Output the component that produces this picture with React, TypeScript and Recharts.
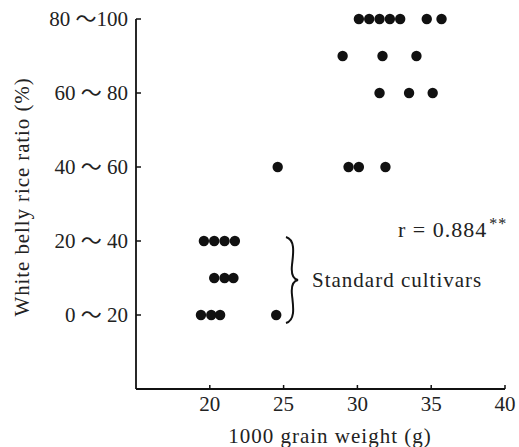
import { ScatterChart, Scatter, XAxis, YAxis } from 'recharts'

// white belly rice ratio classes (1 = 0~20 ... 5 = 80~100), half steps are in-between rows
const classLabels = ['0 ～ 20', '20 ～ 40', '40 ～ 60', '60 ～ 80', '80 ～100']
const classTicks = [1, 2, 3, 4, 5]
const weightTicks = [20, 25, 30, 35, 40]

// 1000 grain weight (g) for each cultivar, grouped by row
const row5 = [30.1, 30.8, 31.5, 32.2, 32.9, 34.7, 35.7]
const row45 = [29.0, 31.7, 34.0]
const row4 = [31.5, 33.5, 35.1]
const row3 = [24.6, 29.4, 30.1, 31.9]
const row2 = [19.6, 20.3, 21.0, 21.7]
const row15 = [20.3, 21.0, 21.6]
const row1 = [19.4, 20.1, 20.7, 24.5]

const toPoints = (xs: number[], y: number) => xs.map((x) => ({ x, y }))
const data = [
  ...toPoints(row5, 5),
  ...toPoints(row45, 4.5),
  ...toPoints(row4, 4),
  ...toPoints(row3, 3),
  ...toPoints(row2, 2),
  ...toPoints(row15, 1.5),
  ...toPoints(row1, 1),
]

const font = '"Liberation Serif", "Noto Sans CJK JP", serif'

const Dot = (props: any) => <circle cx={props.cx} cy={props.cy} r={5.2} fill="#111" />

export default function App() {
  return (
    <div style={{ position: 'relative', width: 519, height: 447, background: '#fff', fontFamily: font }}>
      <style>{'html,body{margin:0;padding:0;overflow:hidden}'}</style>
      <ScatterChart width={519} height={447} margin={{ top: 19, right: 14, bottom: 0, left: 0 }}>
        <XAxis
          type="number"
          dataKey="x"
          domain={[15, 40]}
          ticks={weightTicks}
          allowDataOverflow
          height={58}
          tickSize={-4}
          tickMargin={11}
          axisLine={{ stroke: '#111', strokeWidth: 1.8 }}
          tickLine={{ stroke: '#111', strokeWidth: 1.5 }}
          tick={{ fill: '#222', fontSize: 21, fontFamily: font }}
        />
        <YAxis
          type="number"
          dataKey="y"
          domain={[0, 5]}
          ticks={classTicks}
          width={136}
          tickSize={-5}
          tickMargin={13}
          tickFormatter={(v: number) => classLabels[v - 1]}
          axisLine={{ stroke: '#111', strokeWidth: 1.8 }}
          tickLine={{ stroke: '#111', strokeWidth: 1.5 }}
          tick={{ fill: '#222', fontSize: 21, fontFamily: font }}
        />
        <Scatter data={data} shape={Dot} isAnimationActive={false} />
      </ScatterChart>
      <svg width={519} height={447} style={{ position: 'absolute', left: 0, top: 0, pointerEvents: 'none' }}>
        <text
          x={22}
          y={197}
          transform="rotate(-90 22 197)"
          textAnchor="middle"
          dominantBaseline="central"
          fontSize={21}
          fill="#222"
          fontFamily={font}
          letterSpacing={0.9}
        >
          White belly rice ratio (%)
        </text>
        <text x={330} y={443} textAnchor="middle" fontSize={21} fill="#222" fontFamily={font} letterSpacing={1}>
          1000 grain weight  (g)
        </text>
        <text x={398} y={237} fontSize={22} fill="#222" fontFamily={font} letterSpacing={1}>
          r = 0.884
          <tspan dx={2} dy={-8} fontSize={16}>**</tspan>
        </text>
        <text x={312} y={287} fontSize={21} fill="#222" fontFamily={font} letterSpacing={1}>
          Standard cultivars
        </text>
        <path
          d="M286 237 C 296 240, 293 255, 292 265 C 291 274, 293 279, 298 280 C 293 281, 291 286, 292 295 C 293 305, 296 320, 286 323"
          fill="none"
          stroke="#111"
          strokeWidth={2}
        />
      </svg>
    </div>
  )
}
